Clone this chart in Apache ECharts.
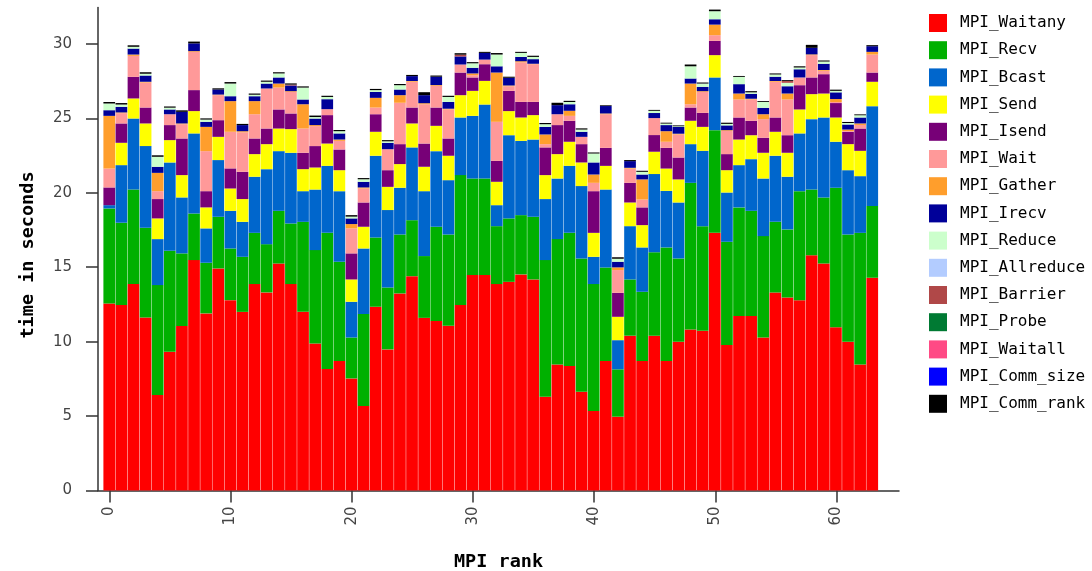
<!DOCTYPE html>
<html>
<head>
<meta charset="utf-8">
<title>MPI time per rank</title>
<script src="https://cdn.jsdelivr.net/npm/echarts@6/dist/echarts.min.js"></script>
<style>
  html, body { margin: 0; padding: 0; background: #fff; }
  #chart { width: 1092px; height: 571px; }
</style>
</head>
<body>
<div id="chart"></div>
<script>
// MPI rank of each bar
const ranks = [0,1,2,3,4,5,6,7,8,9,10,11,12,13,14,15,16,17,18,19,20,21,22,23,24,25,26,27,28,29,30,31,
  32,33,34,35,36,37,38,39,40,41,42,43,44,45,46,47,48,49,50,51,52,53,54,55,56,57,58,59,60,61,62,63]

const seriesNames = ['MPI_Waitany', 'MPI_Recv', 'MPI_Bcast', 'MPI_Send', 'MPI_Isend', 'MPI_Wait',
  'MPI_Gather', 'MPI_Irecv', 'MPI_Reduce', 'MPI_Allreduce', 'MPI_Barrier', 'MPI_Probe',
  'MPI_Waitall', 'MPI_Comm_size', 'MPI_Comm_rank']

const colors = ['#ff0000', '#00b000', '#0066cc', '#ffff00', '#770077', '#ff9999',
  '#ff9e2c', '#000099', '#ccffcc', '#b3ccff', '#b04848', '#007a33',
  '#ff4a85', '#0000ff', '#000000']

// seconds per rank
const waitany = [12.57,12.46,13.87,11.63,6.41,9.32,11.05,15.48,11.9,14.92,12.79,12.0,13.87,13.31,15.25,13.87,
  12.01,9.88,8.16,8.7,7.53,5.67,12.34,9.48,13.24,14.4,11.6,11.38,11.07,12.46,14.47,14.47,
  13.87,14.02,14.52,14.18,6.3,8.47,8.36,6.64,5.34,8.7,4.96,10.4,8.7,10.4,8.7,9.99,
  10.82,10.73,17.31,9.77,11.72,11.72,10.28,13.31,12.97,12.79,15.81,15.25,10.96,9.99,8.47,14.29]
const recv = [6.38,5.53,6.35,6.02,7.39,6.78,4.88,3.13,3.4,3.47,3.47,3.7,3.44,3.24,3.54,4.07,
  6.04,6.27,9.15,6.67,2.75,6.18,4.66,4.16,3.96,3.76,4.15,6.34,6.13,8.73,6.49,6.49,
  3.89,4.26,3.98,4.21,9.18,8.42,8.95,8.95,8.53,6.29,3.18,3.78,4.65,5.6,7.63,5.6,
  9.85,7.03,6.9,6.94,7.3,7.07,6.81,4.74,4.57,7.32,4.41,4.44,9.38,7.21,8.84,4.82]
const bcast = [0.22,3.87,4.77,5.49,3.09,5.94,3.76,5.38,2.31,3.81,2.53,2.35,3.77,5.04,4.01,4.75,
  2.06,4.07,4.5,4.74,2.4,4.41,5.49,5.2,3.14,4.89,4.36,5.08,3.65,3.87,4.21,4.97,
  1.41,5.59,4.99,5.19,4.1,4.07,4.5,4.86,1.83,5.23,1.96,3.58,2.98,5.26,3.8,3.76,
  2.6,5.06,3.54,3.31,2.84,3.47,3.87,4.44,3.54,3.88,4.73,5.37,3.09,4.32,3.81,6.71]
const send = [0,1.5,1.35,1.52,1.39,1.5,1.5,1.5,1.41,1.56,1.5,1.53,1.52,1.68,1.52,1.59,
  1.48,1.48,1.5,1.41,1.5,1.46,1.61,1.56,1.59,1.61,1.64,1.7,1.64,1.5,1.68,1.59,
  1.57,1.62,1.57,1.64,1.61,1.64,1.62,1.59,1.61,1.59,1.57,1.59,1.5,1.5,1.5,1.55,
  1.57,1.61,1.5,1.5,1.72,1.61,1.73,1.61,1.61,1.61,1.68,1.61,1.63,1.75,1.7,1.64]
const isend = [1.19,1.3,1.45,1.07,1.3,1.01,2.46,1.41,1.09,1.12,1.35,1.83,1.05,1.05,1.28,1.05,
  1.1,1.44,1.91,1.39,1.75,1.63,1.18,1.12,1.34,1.07,1.56,1.23,1.16,1.52,0.9,1.12,
  1.41,1.36,1.05,0.89,1.86,1.95,1.41,1.23,2.8,1.21,1.61,1.32,1.19,1.12,1.39,1.47,
  0.89,0.94,0.96,1.08,1.48,0.97,1.01,0.96,1.18,1.63,1.12,1.3,0.97,0.83,1.5,0.62]
const wait = [1.27,0.69,1.41,1.68,0.53,0.73,0.96,2.57,2.69,1.68,2.46,2.66,1.63,2.69,1.47,1.45,
  1.63,1.34,0.4,0.58,1.68,0.94,0.45,1.41,2.78,1.73,2.64,1.46,1.95,0.54,0.15,0.31,
  2.62,0.31,2.66,2.53,0.22,0.73,0.33,0.49,0.56,2.26,1.53,0.96,0.53,1.14,0.41,1.55,
  0.22,1.41,0.38,1.56,1.21,1.43,1.25,2.4,2.4,0.52,1.5,0.23,0.07,0.05,0.24,1.21]
const gather = [3.54,0.05,0.09,0.05,1.23,0,0.05,0.05,1.63,0.04,2.06,0.07,0.88,0,0.27,0.05,
  1.63,0.07,0,0.09,0.29,0.07,0.65,0,0.51,0.05,0.07,0.05,0.05,0,0.12,0,
  3.31,0.05,0.07,0.03,0.65,0,0.34,0,0.56,0.05,0.18,0.05,1.35,0,0.71,0.05,
  1.39,0.05,0.71,0.05,0.4,0.05,0.33,0.05,0.4,0,0.05,0.05,0.2,0.1,0.1,0.18]
const irecv = [0.38,0.38,0.4,0.42,0.41,0.32,0.78,0.52,0.34,0.34,0.33,0.41,0.33,0.33,0.41,0.38,
  0.32,0.44,0.67,0.41,0.38,0.38,0.4,0.43,0.38,0.33,0.54,0.56,0.45,0.54,0.38,0.45,
  0.42,0.52,0.29,0.31,0.51,0.61,0.44,0.34,0.81,0.5,0.38,0.45,0.33,0.34,0.41,0.45,
  0.34,0.29,0.36,0.32,0.63,0.33,0.43,0.29,0.49,0.55,0.44,0.42,0.45,0.34,0.4,0.38]
const reduce = [0.45,0.15,0.12,0.12,0.67,0.12,0,0,0.15,0,0.85,0,0.1,0.12,0.27,0,
  0.8,0.1,0.15,0.15,0.12,0.17,0.12,0.1,0.29,0,0,0,0.34,0,0.3,0,
  0.79,0,0.27,0.15,0.18,0,0.15,0.15,0.6,0,0.2,0,0.18,0.15,0.1,0.05,
  0.82,0.2,0.54,0.1,0.49,0.1,0.4,0.15,0.23,0.12,0,0.15,0.1,0.1,0.15,0]
const allreduce = [0,0,0,0,0,0,0,0,0,0,0,0,0,0,0,0,0,0,0,0,0,0,0,0,0,0,0,0,0,0,0,0,
  0,0,0,0,0,0,0,0,0,0,0,0,0,0,0,0,0,0.02,0,0,0,0,0,0,0,0,0,0,0,0,0,0]
const barrier = [0,0,0,0,0,0,0,0,0,0,0,0,0,0,0,0.06,0,0,0,0,0,0,0,0,0,0,0,0,0,0.12,0,0,
  0,0,0,0,0,0,0,0,0,0,0,0,0,0,0,0,0,0,0,0,0,0,0,0,0.12,0,0,0,0,0,0,0]
const probe = [0,0,0,0,0,0,0,0,0,0,0,0,0,0,0,0,0,0,0,0,0,0,0,0,0,0,0,0,0,0,0,0,
  0,0,0,0,0,0,0,0,0,0,0,0,0,0,0,0,0,0,0,0,0,0,0,0,0,0,0,0,0,0,0,0]
const waitall = [0,0,0,0,0,0,0,0,0,0,0,0,0,0,0,0,0,0,0,0,0,0,0,0,0,0,0,0,0,0,0,0,
  0,0,0,0,0,0,0,0,0,0,0,0,0,0,0,0,0,0,0,0,0,0,0,0,0,0,0,0,0,0,0,0]
const commSize = [0,0,0,0,0,0,0,0,0,0,0,0,0,0,0,0,0,0,0,0,0,0,0,0,0,0,0,0,0,0,0,0,
  0,0,0,0,0,0,0,0,0,0,0,0,0,0,0,0,0,0,0,0,0,0,0,0,0,0,0,0,0,0,0,0]
const commRank = [0.1,0.1,0.1,0.1,0.1,0.08,0.1,0.12,0.08,0.08,0.1,0.08,0.08,0.08,0.08,0.08,
  0.08,0.1,0.08,0.08,0.1,0.08,0.08,0.08,0.08,0.08,0.2,0.08,0.08,0.1,0.08,0.07,
  0.1,0.07,0.07,0.08,0.08,0.16,0.08,0.08,0.07,0.05,0.1,0.07,0.07,0.06,0.06,0.06,
  0.12,0.07,0.11,0.08,0.06,0.08,0.06,0.07,0.06,0.08,0.2,0.07,0.08,0.07,0.06,0.07]

const xTicks = [0, 10, 20, 30, 40, 50, 60]
const yTicks = [0, 5, 10, 15, 20, 25, 30]

const seriesData = [waitany, recv, bcast, send, isend, wait, gather, irecv, reduce,
  allreduce, barrier, probe, waitall, commSize, commRank]

const chart = echarts.init(document.getElementById('chart'), null, { renderer: 'canvas' })

const tickFont = 'DejaVu Sans'
const monoFont = 'DejaVu Sans Mono'
const yMax = 32.45

chart.setOption({
  animation: false,
  backgroundColor: '#fff',
  grid: [
    // bars: one category per rank, 64 of them between the first and last bar edge
    { left: 103.2, right: 213.7, top: 7.5, bottom: 80.5, outerBoundsMode: 'none' },
    // visible axes, slightly wider than the bars
    { left: 98, right: 193, top: 7.5, bottom: 80.5, outerBoundsMode: 'none' }
  ],
  legend: {
    orient: 'vertical',
    left: 929,
    top: 14,
    padding: 0,
    itemWidth: 18,
    itemHeight: 18,
    itemGap: 9.2,
    icon: 'rect',
    data: seriesNames,
    textStyle: {
      fontFamily: monoFont,
      fontSize: 16,
      color: '#000',
      lineHeight: 18,
      padding: [0, 0, 0, 8]
    }
  },
  xAxis: [
    {
      gridIndex: 0,
      type: 'category',
      data: ranks,
      boundaryGap: true,
      show: false
    },
    {
      gridIndex: 1,
      type: 'value',
      min: -0.93,
      max: 65.16,
      name: 'MPI rank',
      nameLocation: 'middle',
      nameGap: 62,
      nameTextStyle: { fontFamily: monoFont, fontWeight: 'bold', fontSize: 18.5, color: '#000' },
      axisLine: { onZero: false, lineStyle: { color: '#333', width: 1.5 } },
      axisTick: { length: 12, customValues: xTicks, lineStyle: { color: '#333', width: 1.5 } },
      axisLabel: {
        customValues: xTicks,
        rotate: 90,
        margin: 16,
        fontFamily: tickFont,
        fontSize: 15,
        color: '#444'
      },
      splitLine: { show: false }
    }
  ],
  yAxis: [
    {
      gridIndex: 0,
      type: 'value',
      min: 0,
      max: yMax,
      show: false
    },
    {
      gridIndex: 1,
      type: 'value',
      min: 0,
      max: yMax,
      name: 'time in seconds',
      nameLocation: 'middle',
      nameRotate: 90,
      nameGap: 60,
      nameTextStyle: {
        fontFamily: monoFont,
        fontWeight: 'bold',
        fontSize: 18.5,
        color: '#000',
        padding: [0, 12, 0, 0] // nudges the title a little lower
      },
      axisLine: { show: true, onZero: false, lineStyle: { color: '#333', width: 1.5 } },
      axisTick: { show: true, length: 12, customValues: yTicks, lineStyle: { color: '#333', width: 1.5 } },
      axisLabel: {
        customValues: yTicks,
        margin: 26,
        fontFamily: tickFont,
        fontSize: 15,
        color: '#444'
      },
      splitLine: { show: false }
    }
  ],
  series: seriesNames.map((name, k) => ({
    name: name,
    type: 'bar',
    xAxisIndex: 0,
    yAxisIndex: 0,
    stack: 'mpi',
    barWidth: 11.7,
    itemStyle: { color: colors[k] },
    data: seriesData[k]
  }))
})
</script>
</body>
</html>
